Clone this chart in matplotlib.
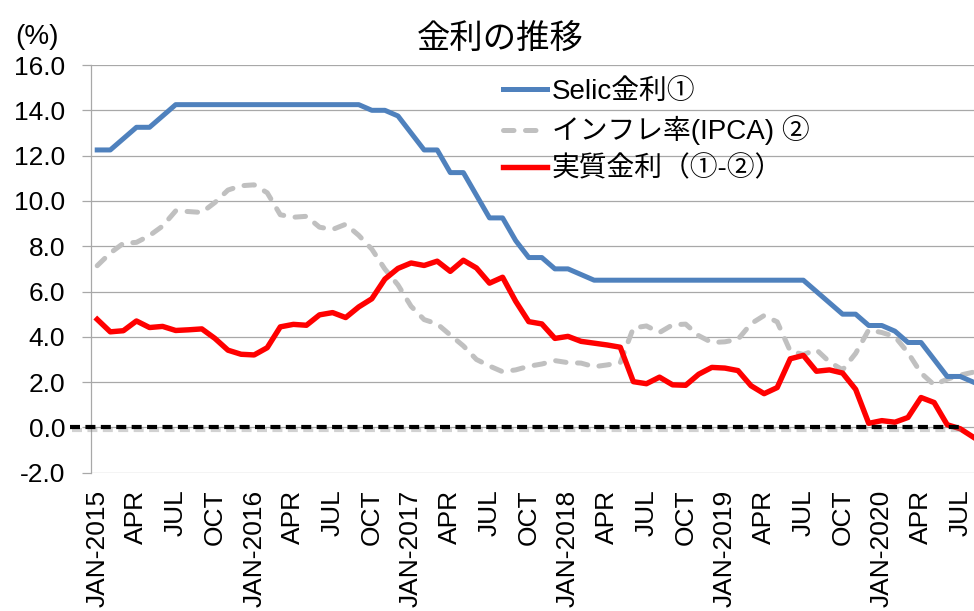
import matplotlib
matplotlib.use('Agg')
import matplotlib.pyplot as plt
import matplotlib.patheffects as pe

plt.rcParams['font.family'] = ['Liberation Sans', 'Noto Sans CJK JP', 'DejaVu Sans']

# Monthly data, Jan-2015 .. Aug-2020 (%)
selic = [12.25, 12.25, 12.75, 13.25, 13.25, 13.75, 14.25, 14.25, 14.25, 14.25, 14.25, 14.25,
         14.25, 14.25, 14.25, 14.25, 14.25, 14.25, 14.25, 14.25, 14.25, 14.00, 14.00, 13.75,
         13.00, 12.25, 12.25, 11.25, 11.25, 10.25, 9.25, 9.25, 8.25, 7.50, 7.50, 7.00,
         7.00, 6.75, 6.50, 6.50, 6.50, 6.50, 6.50, 6.50, 6.50, 6.50, 6.50, 6.50,
         6.50, 6.50, 6.50, 6.50, 6.50, 6.50, 6.50, 6.00, 5.50, 5.00, 5.00, 4.50,
         4.50, 4.25, 3.75, 3.75, 3.00, 2.25, 2.25, 2.00]
ipca = [7.14, 7.70, 8.13, 8.17, 8.47, 8.89, 9.56, 9.53, 9.49, 9.93, 10.48, 10.67,
        10.71, 10.36, 9.39, 9.28, 9.32, 8.84, 8.74, 8.97, 8.48, 7.87, 6.99, 6.29,
        5.35, 4.76, 4.57, 4.08, 3.60, 3.00, 2.71, 2.46, 2.54, 2.70, 2.80, 2.95,
        2.86, 2.84, 2.68, 2.76, 2.86, 4.39, 4.48, 4.19, 4.53, 4.56, 4.05, 3.75,
        3.78, 3.89, 4.58, 4.94, 4.66, 3.37, 3.22, 3.43, 2.89, 2.54, 3.27, 4.31,
        4.19, 4.01, 3.30, 2.40, 1.88, 2.13, 2.31, 2.44]
real = [4.77, 4.22, 4.27, 4.70, 4.41, 4.46, 4.28, 4.31, 4.35, 3.93, 3.41, 3.23,
        3.20, 3.52, 4.44, 4.55, 4.51, 4.97, 5.07, 4.85, 5.32, 5.68, 6.55, 7.02,
        7.26, 7.15, 7.34, 6.89, 7.38, 7.04, 6.37, 6.63, 5.57, 4.67, 4.57, 3.93,
        4.02, 3.80, 3.72, 3.64, 3.54, 2.02, 1.93, 2.22, 1.88, 1.86, 2.35, 2.65,
        2.62, 2.51, 1.84, 1.49, 1.76, 3.03, 3.18, 2.48, 2.54, 2.40, 1.68, 0.18,
        0.30, 0.23, 0.44, 1.32, 1.10, 0.12, -0.06, -0.43]
tick_labels = ['JAN-2015', 'APR', 'JUL', 'OCT', 'JAN-2016', 'APR', 'JUL', 'OCT',
               'JAN-2017', 'APR', 'JUL', 'OCT', 'JAN-2018', 'APR', 'JUL', 'OCT',
               'JAN-2019', 'APR', 'JUL', 'OCT', 'JAN-2020', 'APR', 'JUL']

x = list(range(len(selic)))

fig = plt.figure(figsize=(9.74, 6.11), dpi=100)
ax = fig.add_axes([0.0931, 0.2263, 1.0 - 0.0931, 0.8936 - 0.2263])

ax.plot(x, selic, color='#4F81BD', lw=3.6, label='Selic金利①', zorder=3)
ax.plot(x, ipca, color='#C0C0C0', lw=3.6, dashes=(2.1, 2.3), dash_capstyle='round',
        label='インフレ率(IPCA) ②', zorder=2)
ax.plot(x, real, color='#FF0000', lw=3.9, label='実質金利（①-②）', zorder=4)

# zero line with a soft shadow, drawn a bit past the left axis
ax.plot([-2.05, 66.0], [0, 0], color='black', lw=3.0, dashes=(2.4, 1.3),
        clip_on=False, zorder=5,
        path_effects=[pe.SimpleLineShadow(offset=(1, -2), shadow_color='gray', alpha=0.35),
                      pe.Normal()])

ax.set_xlim(-0.5, 67.05)
ax.set_ylim(-2, 16)
ax.set_yticks(range(-2, 17, 2))
ax.set_yticklabels(['%.1f' % v for v in range(-2, 17, 2)], fontsize=19)
ax.set_xticks(range(0, 67, 3))
ax.set_xticklabels(tick_labels, rotation=90, fontsize=19, va='top', ha='center')

ax.grid(axis='y', color='#a8a8a8', lw=0.9)
ax.set_axisbelow(True)
ax.tick_params(axis='y', length=6.3, width=0.9, color='#a8a8a8', pad=12)
ax.tick_params(axis='x', length=0, pad=12)
for s in ['top', 'right', 'bottom']:
    ax.spines[s].set_visible(False)
ax.spines['left'].set_color('#a8a8a8')
ax.spines['left'].set_linewidth(0.9)

fig.text(500 / 974, 1 - 38 / 611, '金利の推移', fontsize=24, ha='center', va='center',
         family=['Noto Sans CJK JP'])
fig.text(15 / 974, 1 - 37 / 611, '(%)', fontsize=20, ha='left', va='center')

ax.legend(loc='upper left', bbox_to_anchor=(503 / 974, 1 - 79 / 611),
          bbox_transform=fig.transFigure, frameon=False, fontsize=20,
          handlelength=1.6, handletextpad=0.15, labelspacing=0.38,
          borderpad=0, borderaxespad=0)

fig.savefig('out.png', dpi=100)
